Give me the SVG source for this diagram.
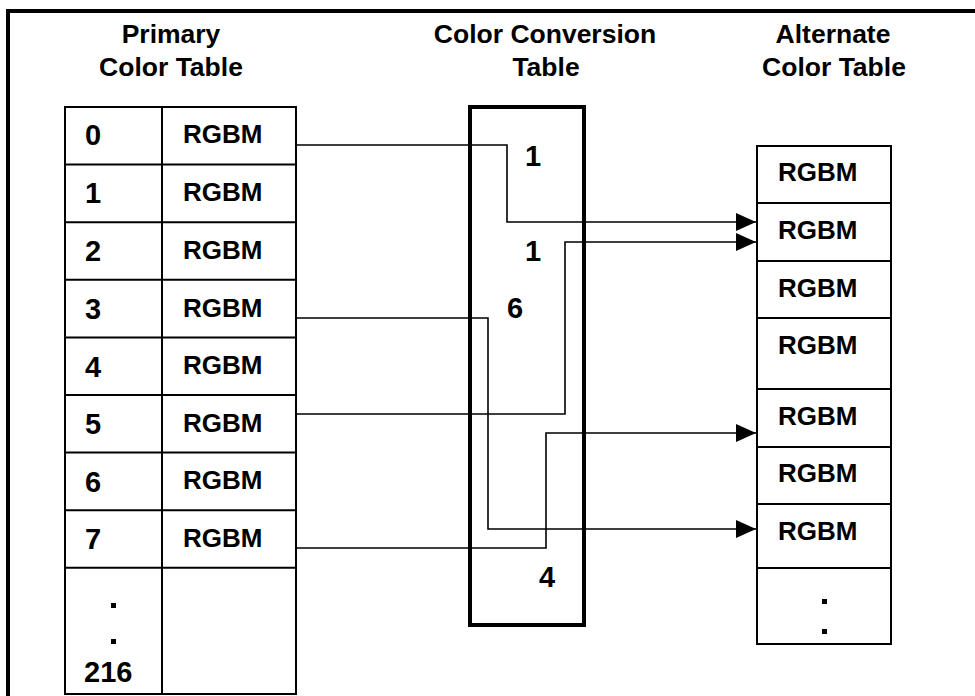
<svg xmlns="http://www.w3.org/2000/svg" width="975" height="696" viewBox="0 0 975 696">
<defs>
<style>
text{font-family:"Liberation Sans",Arial,sans-serif;font-weight:bold;fill:#000}
.t{font-size:26.5px;text-anchor:middle}
.r{font-size:26px}
.n{font-size:29px}
.cell{fill:#fff;stroke:#000;stroke-width:2}
.line{fill:none;stroke:#000;stroke-width:1.6}
.dot{fill:#000}
</style>
<marker id="ah" viewBox="0 0 20 18" refX="20" refY="9" markerWidth="20" markerHeight="18" markerUnits="userSpaceOnUse" orient="auto">
<path d="M0,0 L20,9 L0,18 Z" fill="#000"/>
</marker>
</defs>
<rect width="975" height="696" fill="#fff"/>
<path d="M8,696 V11 H975" fill="none" stroke="#000" stroke-width="4"/>

<g id="titles">
<text class="t" x="171" y="43">Primary</text>
<text class="t" x="171" y="76">Color Table</text>
<text class="t" x="545" y="43">Color Conversion</text>
<text class="t" x="546" y="76">Table</text>
<text class="t" x="833" y="43">Alternate</text>
<text class="t" x="834" y="76">Color Table</text>
</g>

<g id="primary-table">
<rect class="cell" x="65" y="107" width="231" height="587"/>
<path class="cell" d="M162,107 V694 M65,164.6 H296 M65,222.2 H296 M65,279.8 H296 M65,337.4 H296 M65,395 H296 M65,452.6 H296 M65,510.2 H296 M65,567.8 H296"/>
<text class="n" x="85" y="145">0</text><text class="r" x="183" y="143">RGBM</text>
<text class="n" x="85" y="203">1</text><text class="r" x="183" y="201">RGBM</text>
<text class="n" x="85" y="261">2</text><text class="r" x="183" y="259">RGBM</text>
<text class="n" x="85" y="319">3</text><text class="r" x="183" y="317">RGBM</text>
<text class="n" x="85" y="377">4</text><text class="r" x="183" y="374">RGBM</text>
<text class="n" x="85" y="434">5</text><text class="r" x="183" y="432">RGBM</text>
<text class="n" x="85" y="492">6</text><text class="r" x="183" y="489">RGBM</text>
<text class="n" x="85" y="549">7</text><text class="r" x="183" y="547">RGBM</text>
<rect class="dot" x="111" y="603" width="5" height="5"/>
<rect class="dot" x="111" y="639" width="5" height="5"/>
<text class="n" x="84" y="682">216</text>
</g>

<g id="conversion-table">
<rect x="470" y="107" width="114" height="518" fill="#fff" stroke="#000" stroke-width="4"/>
<text class="n" x="525" y="166">1</text>
<text class="n" x="525" y="261">1</text>
<text class="n" x="507" y="318">6</text>
<text class="n" x="539" y="587">4</text>
</g>

<g id="alternate-table">
<rect class="cell" x="757" y="146" width="134" height="498"/>
<path class="cell" d="M757,203 H891 M757,261 H891 M757,318 H891 M757,389 H891 M757,447 H891 M757,504 H891 M757,568 H891"/>
<text class="r" x="778" y="181">RGBM</text>
<text class="r" x="778" y="239">RGBM</text>
<text class="r" x="778" y="297">RGBM</text>
<text class="r" x="778" y="354">RGBM</text>
<text class="r" x="778" y="425">RGBM</text>
<text class="r" x="778" y="482">RGBM</text>
<text class="r" x="778" y="540">RGBM</text>
<rect class="dot" x="822" y="599" width="5" height="5"/>
<rect class="dot" x="822" y="629" width="5" height="5"/>
</g>

<g id="connectors">
<path class="line" marker-end="url(#ah)" d="M296,145 H507 V222 H756"/>
<path class="line" marker-end="url(#ah)" d="M296,414 H565 V242 H756"/>
<path class="line" marker-end="url(#ah)" d="M296,318 H488 V529 H756"/>
<path class="line" marker-end="url(#ah)" d="M296,548 H546 V433 H756"/>
</g>
</svg>
